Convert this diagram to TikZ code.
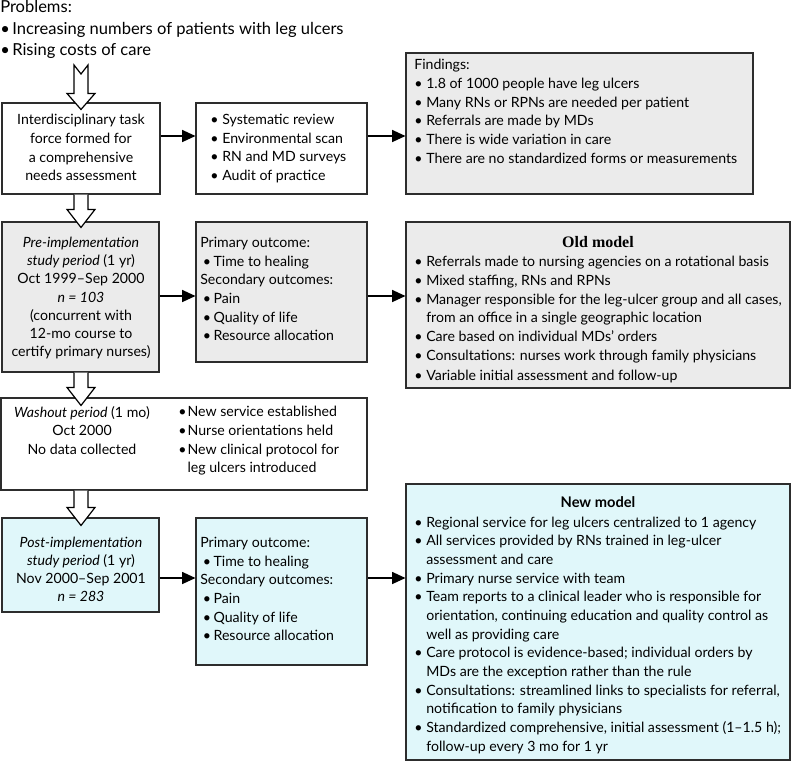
\documentclass[tikz,border=0pt]{standalone}
\usepackage{fontspec}
\setmainfont{Lato}
\newfontfamily\headserif{Liberation Serif}
\usetikzlibrary{arrows.meta,calc,fit}
\definecolor{boxgrey}{RGB}{235,235,235}
\definecolor{boxcyan}{RGB}{224,247,250}
\definecolor{edge}{RGB}{45,45,45}
\newcommand\bl[1][9pt]{\makebox[#1][l]{\textbullet}}
\newcommand\cl[1][9pt]{\hspace*{#1}}
\begin{document}
\begin{tikzpicture}[x=0.75pt,y=-0.75pt,
  box/.style={draw=edge,line width=0.8pt,inner sep=0pt},
  greybox/.style={box,fill=boxgrey},
  cyanbox/.style={box,fill=boxcyan},
  txt/.style={inner sep=0pt,font=\fontsize{10.6}{14}\selectfont,align=left,anchor=north west,execute at begin node={\rule{0pt}{8pt}}},
  ctxt/.style={txt,align=center,anchor=north},
  ptxt/.style={inner sep=0pt,font=\fontsize{12.4}{16}\selectfont,align=left,anchor=north west,execute at begin node={\rule{0pt}{9pt}}},
  conn/.style={line width=1pt,-{Triangle[length=10pt,width=9pt]}},
  hollow/.style={draw=black,line width=0.9pt,fill=white,line join=miter}]
\useasboundingbox (0,0) rectangle (800,765);

% boxes
\node[box,fit={(2,103) (160,194)}] (task) {};
\node[box,fit={(196,103) (367,194)}] (review) {};
\node[greybox,fit={(406,53) (753,194)}] (find) {};
\node[greybox,fit={(2,222) (159,372)}] (pre) {};
\node[greybox,fit={(196,222) (367,362)}] (prim1) {};
\node[greybox,fit={(406,222) (790,388)}] (old) {};
\node[box,fit={(1,398) (367,490)}] (wash) {};
\node[cyanbox,fit={(2,518) (159,612)}] (post) {};
\node[cyanbox,fit={(196,518) (367,665)}] (prim2) {};
\node[cyanbox,fit={(406,484) (790,760)}] (new) {};

% texts
\node[ptxt] (prob) at (0,0.5) {Problems:\\\bl[9pt]Increasing numbers of patients with leg ulcers\\\bl[9pt]Rising costs of care};
\node[ctxt] (tasktxt) at (81,114) {Interdisciplinary task\\force formed for\\a comprehensive\\needs assessment};
\node[txt] (revtxt) at (210,114) {\bl Systematic review\\\bl Environmental scan\\\bl RN and MD surveys\\\bl Audit of practice};
\node[txt] (findtxt) at (414,59) {Findings:\\\bl 1.8 of 1000 people have leg ulcers\\\bl Many RNs or RPNs are needed per patient\\\bl Referrals are made by MDs\\\bl There is wide variation in care\\\bl There are no standardized forms or measurements};
\node[ctxt,font=\fontsize{10.6}{13.6}\selectfont] (pretxt) at (81,237) {\textit{Pre-implementation}\\\textit{study period} (1 yr)\\Oct 1999–Sep 2000\\\textit{n = 103}\\(concurrent with\\12-mo course to\\certify primary nurses)};
\node[txt] (prim1txt) at (200,237) {Primary outcome:\\\cl[2pt]\bl[8pt]Time to healing\\Secondary outcomes:\\\cl[2pt]\bl[8pt]Pain\\\cl[2pt]\bl[8pt]Quality of life\\\cl[2pt]\bl[8pt]Resource allocation};
\node[inner sep=0pt,anchor=base,font=\headserif\bfseries\fontsize{12}{14}\selectfont] (oldhead) at (598,247) {Old model};
\node[txt] (oldtxt) at (414,256) {\bl Referrals made to nursing agencies on a rotational basis\\\bl Mixed staffing, RNs and RPNs\\\bl Manager responsible for the leg-ulcer group and all cases,\\\cl from an office in a single geographic location\\\bl Care based on individual MDs’ orders\\\bl Consultations: nurses work through family physicians\\[1pt]\bl Variable initial assessment and follow-up};
\node[ctxt] (washtxt) at (82,406) {\textit{Washout period} (1 mo)\\Oct 2000\\No data collected};
\node[txt] (washlist) at (178,406) {\bl[7pt]New service established\\\bl[7pt]Nurse orientations held\\\bl[7pt]New clinical protocol for\\\cl[7pt]leg ulcers introduced};
\node[ctxt,font=\fontsize{10.6}{13.4}\selectfont] (posttxt) at (81,537) {\textit{Post-implementation}\\\textit{study period} (1 yr)\\Nov 2000–Sep 2001\\\textit{n = 283}};
\node[txt] (prim2txt) at (200,537) {Primary outcome:\\\cl[2pt]\bl[8pt]Time to healing\\Secondary outcomes:\\\cl[2pt]\bl[8pt]Pain\\\cl[2pt]\bl[8pt]Quality of life\\\cl[2pt]\bl[8pt]Resource allocation};
\node[inner sep=0pt,anchor=base,font=\bfseries\fontsize{11}{14}\selectfont] (newhead) at (598,507) {New model};
\node[txt] (newtxt) at (414,516.5) {\bl Regional service for leg ulcers centralized to 1 agency\\\bl All services provided by RNs trained in leg-ulcer\\\cl assessment and care\\\bl Primary nurse service with team\\\bl Team reports to a clinical leader who is responsible for\\\cl orientation, continuing education and quality control as\\\cl well as providing care\\\bl Care protocol is evidence-based; individual orders by\\\cl MDs are the exception rather than the rule\\\bl Consultations: streamlined links to specialists for referral,\\\cl notification to family physicians\\\bl Standardized comprehensive, initial assessment (1–1.5 h);\\\cl follow-up every 3 mo for 1 yr};

% connectors
\coordinate (r1) at (0,136);
\coordinate (r2) at (0,296);
\coordinate (r3) at (0,578);
\draw[conn] (task.east |- r1) -- (review.west |- r1);
\draw[conn] (review.east |- r1) -- (find.west |- r1);
\draw[conn] (pre.east |- r2) -- (prim1.west |- r2);
\draw[conn] (prim1.east |- r2) -- (old.west |- r2);
\draw[conn] (post.east |- r3) -- (prim2.west |- r3);
\draw[conn] (prim2.east |- r3) -- (new.west |- r3);

% hollow arrows
\coordinate (tail) at (81,65);
\coordinate (tip1) at ($(task.north)+(0,7)$);
\coordinate (tip2) at ($(task.south |- pre.north)+(0,6)$);
\coordinate (tip3) at ($(task.south |- wash.north)+(0,8)$);
\coordinate (tip4) at ($(task.south |- post.north)+(0,8)$);
\coordinate (s2) at (task.south);
\coordinate (s3) at (task.south |- pre.south);
\coordinate (s4) at (task.south |- wash.south);
\draw[hollow] ($(tail)+(-7,0)$) -- ($(tip1)+(-7,-16)$) -- ($(tip1)+(-14,-16)$) -- (tip1) -- ($(tip1)+(14,-16)$) -- ($(tip1)+(7,-16)$) -- ($(tail)+(7,0)$) -- ($(tail)+(0,9)$) -- cycle;
\foreach \s/\t in {s2/tip2,s3/tip3,s4/tip4}{
  \draw[hollow] ($(\s)+(-7,0)$) -- ($(\t)+(-7,-18)$) -- ($(\t)+(-14,-18)$) -- (\t) -- ($(\t)+(14,-18)$) -- ($(\t)+(7,-18)$) -- ($(\s)+(7,0)$);
}
\end{tikzpicture}
\end{document}
